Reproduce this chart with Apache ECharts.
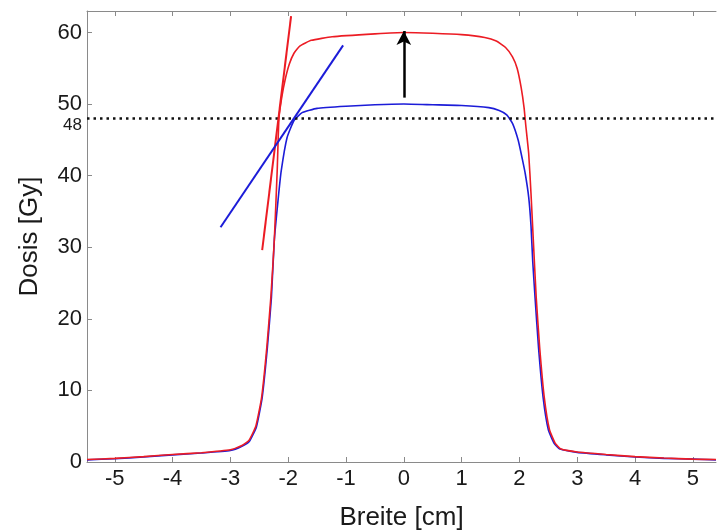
<!DOCTYPE html>
<html>
<head>
<meta charset="utf-8">
<script src="https://cdn.jsdelivr.net/npm/echarts@6/dist/echarts.min.js"></script>
<style>
  html, body { margin: 0; padding: 0; background: #fff; }
  #chart { width: 717px; height: 531px; }
</style>
</head>
<body>
<div id="chart"></div>
<script>
// Dose profiles: [Breite cm, Dosis Gy]
const blueProfile = [
  [-5.48, 0.3], [-5, 0.45], [-4.5, 0.7], [-4, 1.0], [-3.5, 1.25], [-3, 1.6],
  [-2.8, 2.2], [-2.67, 2.9], [-2.55, 4.9], [-2.45, 9], [-2.36, 16], [-2.29, 23],
  [-2.24, 31], [-2.17, 37], [-2.12, 40.7], [-2.02, 45.3], [-1.9, 47.7],
  [-1.76, 48.8], [-1.5, 49.4], [-1, 49.7], [-0.5, 49.9], [0, 50], [0.5, 49.9],
  [1, 49.8], [1.47, 49.5], [1.65, 49.1], [1.78, 48.5], [1.88, 47.3], [1.98, 44.9],
  [2.05, 42.3], [2.1, 40.3], [2.16, 37], [2.2, 33], [2.23, 28], [2.27, 23],
  [2.33, 16], [2.41, 9], [2.5, 4.5], [2.6, 2.6], [2.7, 1.8], [3, 1.35],
  [3.5, 1.0], [4, 0.7], [4.5, 0.5], [5, 0.4], [5.4, 0.3]
]
const redProfile = [
  [-5.48, 0.35], [-5, 0.5], [-4.5, 0.75], [-4, 1.05], [-3.5, 1.3], [-3, 1.7],
  [-2.8, 2.3], [-2.68, 3.0], [-2.56, 5.0], [-2.46, 9], [-2.37, 16], [-2.3, 23],
  [-2.24, 31], [-2.19, 40.7], [-2.16, 48], [-2.11, 51], [-2.05, 53.5],
  [-1.98, 55.6], [-1.9, 57.1], [-1.8, 58.1], [-1.6, 58.9], [-1.24, 59.4],
  [-0.5, 59.8], [0, 60], [0.5, 59.9], [1, 59.7], [1.4, 59.3], [1.6, 58.8],
  [1.76, 57.9], [1.88, 56.6], [1.96, 55], [2.03, 52.3], [2.08, 49.5], [2.11, 47],
  [2.16, 43.1], [2.2, 37.5], [2.24, 31], [2.29, 23], [2.35, 16], [2.43, 9],
  [2.52, 4.5], [2.62, 2.6], [2.72, 1.8], [3, 1.4], [3.5, 1.05], [4, 0.75],
  [4.5, 0.55], [5, 0.4], [5.4, 0.35]
]
// steepness tangents at the left penumbra
const redTangent = [[-2.45, 29.6], [-1.95, 62.3]]
const blueTangent = [[-3.17, 32.8], [-1.05, 58.2]]
const arrowFrom = [0, 50.9]
const arrowTo = [0, 60.2]
const thresholdDose = 48

const xTicks = [-5, -4, -3, -2, -1, 0, 1, 2, 3, 4, 5]
const yTicks = [0, 10, 20, 30, 40, 50, 60]
const yLabels = [0, 10, 20, 30, 40, 48, 50, 60]

const RED = "#ec1c24"
const BLUE = "#1c1cd8"
const FONT = "Liberation Sans"

const chart = echarts.init(document.getElementById("chart"), null, { renderer: "canvas" })

const axisLine = { show: true, onZero: false, lineStyle: { color: "#8a8a8a", width: 1 } }

chart.setOption({
  backgroundColor: "#fff",
  animation: false,
  grid: { left: 87, right: 1, top: 11, bottom: 69, containLabel: false, outerBoundsMode: "none" },
  xAxis: [
    {
      type: "value", min: -5.48, max: 5.4, position: "bottom",
      axisLine,
      axisTick: { inside: true, length: 5, lineStyle: { color: "#8a8a8a" }, customValues: xTicks },
      axisLabel: { customValues: xTicks, color: "#1a1a1a", fontSize: 22, fontFamily: FONT, margin: 6 },
      splitLine: { show: false },
      name: "Breite [cm]", nameLocation: "middle", nameGap: 43,
      nameTextStyle: { color: "#1a1a1a", fontSize: 26, fontFamily: FONT }
    },
    {
      type: "value", min: -5.48, max: 5.4, position: "top",
      axisLine,
      axisTick: { inside: true, length: 5, lineStyle: { color: "#8a8a8a" }, customValues: xTicks },
      axisLabel: { show: false },
      splitLine: { show: false }
    }
  ],
  yAxis: {
    type: "value", min: 0, max: 63,
    axisLine,
    axisTick: { inside: true, length: 5, lineStyle: { color: "#8a8a8a" }, customValues: yTicks },
    axisLabel: {
      customValues: yLabels, color: "#1a1a1a", fontSize: 22, fontFamily: FONT, margin: 5,
      formatter: (v) => v === thresholdDose ? "{s|" + v + "}" : String(v),
      rich: { s: { fontSize: 17, fontFamily: FONT, color: "#1a1a1a", padding: [13, 0, 0, 0] } }
    },
    splitLine: { show: false },
    name: "Dosis [Gy]", nameLocation: "middle", nameGap: 44, nameRotate: 90,
    nameTextStyle: { color: "#1a1a1a", fontSize: 26, fontFamily: FONT }
  },
  series: [
    {
      type: "line", data: blueProfile, smooth: 0.15, symbol: "none",
      lineStyle: { color: BLUE, width: 1.6 }, z: 3,
      markLine: {
        silent: true, symbol: "none", animation: false,
        lineStyle: { color: "#111", type: [2.5, 4], width: 2.5 },
        label: { show: false },
        data: [{ yAxis: thresholdDose }]
      }
    },
    {
      type: "line", data: redProfile, smooth: 0.15, symbol: "none",
      lineStyle: { color: RED, width: 1.6 }, z: 4
    },
    {
      type: "line", data: redTangent, symbol: "none",
      lineStyle: { color: RED, width: 2 }, z: 5
    },
    {
      type: "line", data: blueTangent, symbol: "none",
      lineStyle: { color: BLUE, width: 2 }, z: 5,
      markLine: {
        silent: true, animation: false,
        symbol: ["none", "arrow"], symbolSize: [11, 14],
        lineStyle: { color: "#000", type: "solid", width: 2.5 },
        label: { show: false },
        data: [[{ coord: arrowFrom }, { coord: arrowTo }]]
      }
    }
  ]
})
</script>
</body>
</html>
